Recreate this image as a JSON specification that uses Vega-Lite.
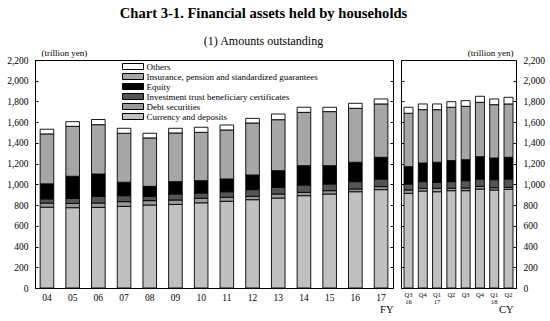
{
  "$schema": "https://vega.github.io/schema/vega-lite/v6.json",
  "background": "white",
  "padding": {"left": 6, "right": 4, "top": 5, "bottom": 1},
  "title": {
    "text": "Chart 3-1. Financial assets held by households",
    "subtitle": "(1) Amounts outstanding",
    "font": "Liberation Serif",
    "fontSize": 14.6,
    "fontWeight": "bold",
    "color": "black",
    "subtitleFont": "Liberation Serif",
    "subtitleFontSize": 12,
    "subtitleColor": "black",
    "subtitlePadding": 15,
    "anchor": "middle",
    "offset": 1,
    "dx": -12
  },
  "config": {
    "font": "Liberation Serif",
    "title": {"font": "Liberation Serif", "subtitleFont": "Liberation Serif"},
    "view": {"stroke": "black", "strokeWidth": 1},
    "axis": {
      "labelFont": "Liberation Serif",
      "titleFont": "Liberation Serif",
      "labelColor": "black",
      "titleColor": "black",
      "domainColor": "black",
      "tickColor": "black",
      "grid": false,
      "titleFontWeight": "normal"
    },
    "legend": {
      "labelFont": "Liberation Serif",
      "labelColor": "black",
      "labelFontSize": 9,
      "labelLimit": 400
    }
  },
  "datasets": {
    "cats": [
      {"c": "cash", "name": "Currency and deposits", "rank": 1},
      {"c": "debt", "name": "Debt securities", "rank": 2},
      {"c": "it", "name": "Investment trust beneficiary certificates", "rank": 3},
      {"c": "equity", "name": "Equity", "rank": 4},
      {"c": "ins", "name": "Insurance, pension and standardized guarantees", "rank": 5},
      {"c": "others", "name": "Others", "rank": 6}
    ],
    "fy": [
      {"p": "04", "cash": 780, "debt": 40, "it": 40, "equity": 145, "ins": 482, "others": 45},
      {"p": "05", "cash": 775, "debt": 42, "it": 49, "equity": 212, "ins": 482, "others": 45},
      {"p": "06", "cash": 778, "debt": 42, "it": 65, "equity": 215, "ins": 476, "others": 50},
      {"p": "07", "cash": 788, "debt": 45, "it": 58, "equity": 129, "ins": 473, "others": 48},
      {"p": "08", "cash": 801, "debt": 42, "it": 42, "equity": 96, "ins": 467, "others": 45},
      {"p": "09", "cash": 806, "debt": 43, "it": 58, "equity": 119, "ins": 470, "others": 45},
      {"p": "10", "cash": 822, "debt": 44, "it": 51, "equity": 118, "ins": 467, "others": 49},
      {"p": "11", "cash": 837, "debt": 38, "it": 54, "equity": 123, "ins": 473, "others": 48},
      {"p": "12", "cash": 852, "debt": 33, "it": 64, "equity": 141, "ins": 502, "others": 45},
      {"p": "13", "cash": 868, "debt": 39, "it": 65, "equity": 160, "ins": 492, "others": 55},
      {"p": "14", "cash": 891, "debt": 32, "it": 71, "equity": 186, "ins": 515, "others": 49},
      {"p": "15", "cash": 907, "debt": 32, "it": 65, "equity": 176, "ins": 522, "others": 42},
      {"p": "16", "cash": 929, "debt": 26, "it": 71, "equity": 187, "ins": 521, "others": 48},
      {"p": "17", "cash": 949, "debt": 29, "it": 74, "equity": 209, "ins": 515, "others": 48}
    ],
    "cy": [
      {"p": "16Q3", "cash": 914, "debt": 32, "it": 58, "equity": 167, "ins": 515, "others": 58},
      {"p": "16Q4", "cash": 936, "debt": 26, "it": 64, "equity": 180, "ins": 515, "others": 55},
      {"p": "17Q1", "cash": 929, "debt": 33, "it": 58, "equity": 193, "ins": 508, "others": 55},
      {"p": "17Q2", "cash": 939, "debt": 23, "it": 64, "equity": 203, "ins": 515, "others": 54},
      {"p": "17Q3", "cash": 939, "debt": 26, "it": 71, "equity": 202, "ins": 515, "others": 55},
      {"p": "17Q4", "cash": 955, "debt": 26, "it": 71, "equity": 215, "ins": 525, "others": 58},
      {"p": "18Q1", "cash": 946, "debt": 22, "it": 77, "equity": 209, "ins": 515, "others": 55},
      {"p": "18Q2", "cash": 952, "debt": 20, "it": 80, "equity": 209, "ins": 515, "others": 64}
    ]
  },
  "spacing": 6,
  "resolve": {"legend": {"fill": "independent"}},
  "hconcat": [
    {
      "width": 358,
      "height": 228,
      "data": {"name": "fy"},
      "transform": [
        {"fold": ["cash", "debt", "it", "equity", "ins", "others"], "as": ["c", "v"]},
        {"lookup": "c", "from": {"data": {"name": "cats"}, "key": "c", "fields": ["name", "rank"]}}
      ],
      "layer": [
        {
          "mark": {"type": "bar", "stroke": "black", "strokeWidth": 0.9},
          "encoding": {
            "x": {
              "field": "p", "type": "ordinal",
              "scale": {"paddingInner": 0.47, "paddingOuter": 0.2},
              "axis": {"title": "FY", "labelAngle": 0, "labelFontSize": 9.5, "ticks": false, "labelPadding": 4, "titleAnchor": "end", "titleFontSize": 10.5, "titlePadding": 3}
            },
            "y": {
              "field": "v", "type": "quantitative", "stack": "zero",
              "scale": {"domain": [0, 2200], "nice": false},
              "axis": {
                "values": [0, 200, 400, 600, 800, 1000, 1200, 1400, 1600, 1800, 2000, 2200],
                "format": ",d", "tickSize": -3, "labelPadding": 10, "labelFontSize": 9.5,
                "title": "(trillion yen)", "titleAngle": 0, "titleAlign": "left", "titleBaseline": "alphabetic",
                "titleX": 6, "titleY": -5, "titleFontSize": 9
              }
            },
            "fill": {
              "field": "name", "type": "nominal",
              "scale": {
                "domain": ["Others", "Insurance, pension and standardized guarantees", "Equity", "Investment trust beneficiary certificates", "Debt securities", "Currency and deposits"],
                "range": ["#ffffff", "#a6a6a6", "#000000", "#555555", "#9a9a9a", "#c0c0c0"]
              },
              "legend": {
                "orient": "none", "legendX": 93.5, "legendY": 2, "title": null, "padding": 0,
                "symbolType": "M-3.5,-1L3.5,-1L3.5,1L-3.5,1Z", "symbolSize": 36,
                "symbolStrokeColor": "black", "symbolStrokeWidth": 1,
                "labelOffset": 9, "rowPadding": -1.2, "labelFontSize": 9, "labelLimit": 400,
                "labelFont": "Liberation Serif"
              }
            },
            "order": {"field": "rank", "type": "quantitative"}
          }
        },
        {
          "mark": {"type": "bar", "opacity": 0},
          "encoding": {
            "x": {"field": "p", "type": "ordinal"},
            "y": {
              "field": "v", "type": "quantitative", "stack": "zero",
              "axis": {"orient": "right", "labels": false, "tickSize": -3, "title": null, "domain": true,
                "values": [0, 200, 400, 600, 800, 1000, 1200, 1400, 1600, 1800, 2000, 2200]}
            }
          }
        }
      ],
      "resolve": {"axis": {"y": "independent"}}
    },
    {
      "width": 115,
      "height": 228,
      "data": {"name": "cy"},
      "transform": [
        {"fold": ["cash", "debt", "it", "equity", "ins", "others"], "as": ["c", "v"]},
        {"lookup": "c", "from": {"data": {"name": "cats"}, "key": "c", "fields": ["name", "rank"]}}
      ],
      "layer": [
        {
          "mark": {"type": "bar", "stroke": "black", "strokeWidth": 0.9},
          "encoding": {
            "x": {
              "field": "p", "type": "ordinal",
              "scale": {"paddingInner": 0.37, "paddingOuter": 0.21},
              "axis": {
                "title": "CY", "labelAngle": 0, "labelFontSize": 6.5, "labelLineHeight": 7.5, "ticks": false, "labelPadding": 3,
                "labelExpr": "(slice(datum.value,2)=='Q1' || datum.value=='16Q3') ? [slice(datum.value,2), slice(datum.value,0,2)] : slice(datum.value,2)",
                "titleAnchor": "end", "titleFontSize": 10.5, "titlePadding": -1, "titleX": 112, "titleAlign": "right"
              }
            },
            "y": {
              "field": "v", "type": "quantitative", "stack": "zero",
              "scale": {"domain": [0, 2200], "nice": false},
              "axis": {
                "orient": "right",
                "values": [0, 200, 400, 600, 800, 1000, 1200, 1400, 1600, 1800, 2000, 2200],
                "format": ",d", "tickSize": -3, "labelPadding": 10, "labelFontSize": 9.5,
                "title": "(trillion yen)", "titleAngle": 0, "titleAlign": "right", "titleBaseline": "alphabetic",
                "titleX": -3, "titleY": -5, "titleFontSize": 9
              }
            },
            "fill": {
              "field": "name", "type": "nominal",
              "scale": {
                "domain": ["Others", "Insurance, pension and standardized guarantees", "Equity", "Investment trust beneficiary certificates", "Debt securities", "Currency and deposits"],
                "range": ["#ffffff", "#a6a6a6", "#000000", "#555555", "#9a9a9a", "#c0c0c0"]
              },
              "legend": null
            },
            "order": {"field": "rank", "type": "quantitative"}
          }
        },
        {
          "mark": {"type": "bar", "opacity": 0},
          "encoding": {
            "x": {"field": "p", "type": "ordinal"},
            "y": {
              "field": "v", "type": "quantitative", "stack": "zero",
              "axis": {"orient": "left", "labels": false, "tickSize": -3, "title": null,
                "values": [0, 200, 400, 600, 800, 1000, 1200, 1400, 1600, 1800, 2000, 2200]}
            }
          }
        }
      ],
      "resolve": {"axis": {"y": "independent"}}
    }
  ]
}
